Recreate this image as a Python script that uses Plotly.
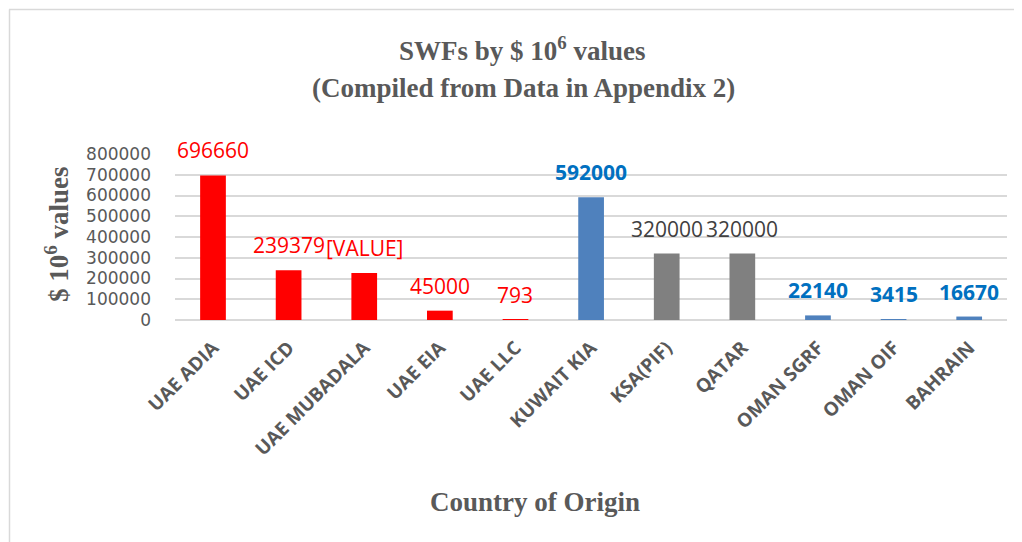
import plotly.graph_objects as go

categories = ["UAE ADIA", "UAE ICD", "UAE MUBADALA", "UAE EIA", "UAE LLC",
              "KUWAIT KIA", "KSA(PIF)", "QATAR", "OMAN SGRF", "OMAN OIF", "BAHRAIN"]
values = [696660, 239379, 227000, 45000, 793, 592000, 320000, 320000, 22140, 3415, 16670]
labels = ["696660", "239379", "[VALUE]", "45000", "793", "592000", "320000", "320000",
          "22140", "3415", "16670"]
bar_colors = ["#ff0000"] * 5 + ["#4f81bd", "#808080", "#808080", "#4f81bd", "#4f81bd", "#4f81bd"]
label_colors = ["#ff0000"] * 5 + ["#0070c0", "#404040", "#404040", "#0070c0", "#0070c0", "#0070c0"]
label_bold = [False] * 5 + [True, False, False, True, True, True]
y_ticks = [0, 100000, 200000, 300000, 400000, 500000, 600000, 700000, 800000]

# page has an 8px body margin; figure sized to fill the rest of the window
OFF = 8
W, H = 1022 - OFF, 542 - OFF
L, R, T, B = 167, 15, 146, 222
pw, ph = W - L - R, H - T - B

def px(x_page):
    return (x_page - OFF - L) / pw

def py(y_page):
    return (H - B - (y_page - OFF)) / ph

fig = go.Figure(go.Bar(
    x=categories, y=values, marker=dict(color=bar_colors, line=dict(width=0)),
))

for c, v, t, col, b in zip(categories, values, labels, label_colors, label_bold):
    fig.add_annotation(x=c, y=v, text=t, showarrow=False, yshift=25, yanchor="middle",
                       font=dict(family="Open Sans", size=21, color=col,
                                 weight="bold" if b else "normal"))

title_font = dict(family="Liberation Serif", size=27, color="#595959", weight="bold")
fig.add_annotation(xref="paper", yref="paper", x=px(522), y=py(49),
                   text="SWFs by $ 10<sup>6</sup> values", showarrow=False, font=title_font,
                   xanchor="center", yanchor="middle")
fig.add_annotation(xref="paper", yref="paper", x=px(523), y=py(88),
                   text="(Compiled from Data in Appendix 2)", showarrow=False, font=title_font,
                   xanchor="center", yanchor="middle")
fig.add_annotation(xref="paper", yref="paper", x=px(57), y=py(235),
                   text="$ 10<sup>6</sup> values", showarrow=False, font=title_font,
                   textangle=-90, xanchor="center", yanchor="middle")
fig.add_annotation(xref="paper", yref="paper", x=px(535), y=py(502),
                   text="Country of Origin", showarrow=False, font=title_font,
                   xanchor="center", yanchor="middle")

# chart area border (top and left visible)
fig.add_shape(type="line", xref="paper", yref="paper", x0=px(9), x1=px(1030), y0=py(9.5), y1=py(9.5),
              line=dict(color="#d9d9d9", width=1.5))
fig.add_shape(type="line", xref="paper", yref="paper", x0=px(9.5), x1=px(9.5), y0=py(9.5), y1=py(560),
              line=dict(color="#d9d9d9", width=1.5))

fig.update_layout(
    width=W, height=H,
    margin=dict(l=L, r=R, t=T, b=B),
    paper_bgcolor="white", plot_bgcolor="white",
    bargap=0.66, showlegend=False,
    xaxis=dict(tickangle=-45, showgrid=False, showline=False, ticks="", ticklabelstandoff=12,
               tickfont=dict(family="Open Sans", size=19, color="#595959", weight="bold")),
    yaxis=dict(range=[0, 800000], tickvals=y_ticks, ticktext=[str(v) for v in y_ticks],
               showgrid=True, gridcolor="#d9d9d9", gridwidth=1.5,
               zeroline=True, zerolinecolor="#d9d9d9", zerolinewidth=1.5,
               showline=False, ticks="", ticklabelstandoff=23,
               tickfont=dict(family="DejaVu Sans", size=17, color="#595959")),
)

fig.write_html("out.html")
